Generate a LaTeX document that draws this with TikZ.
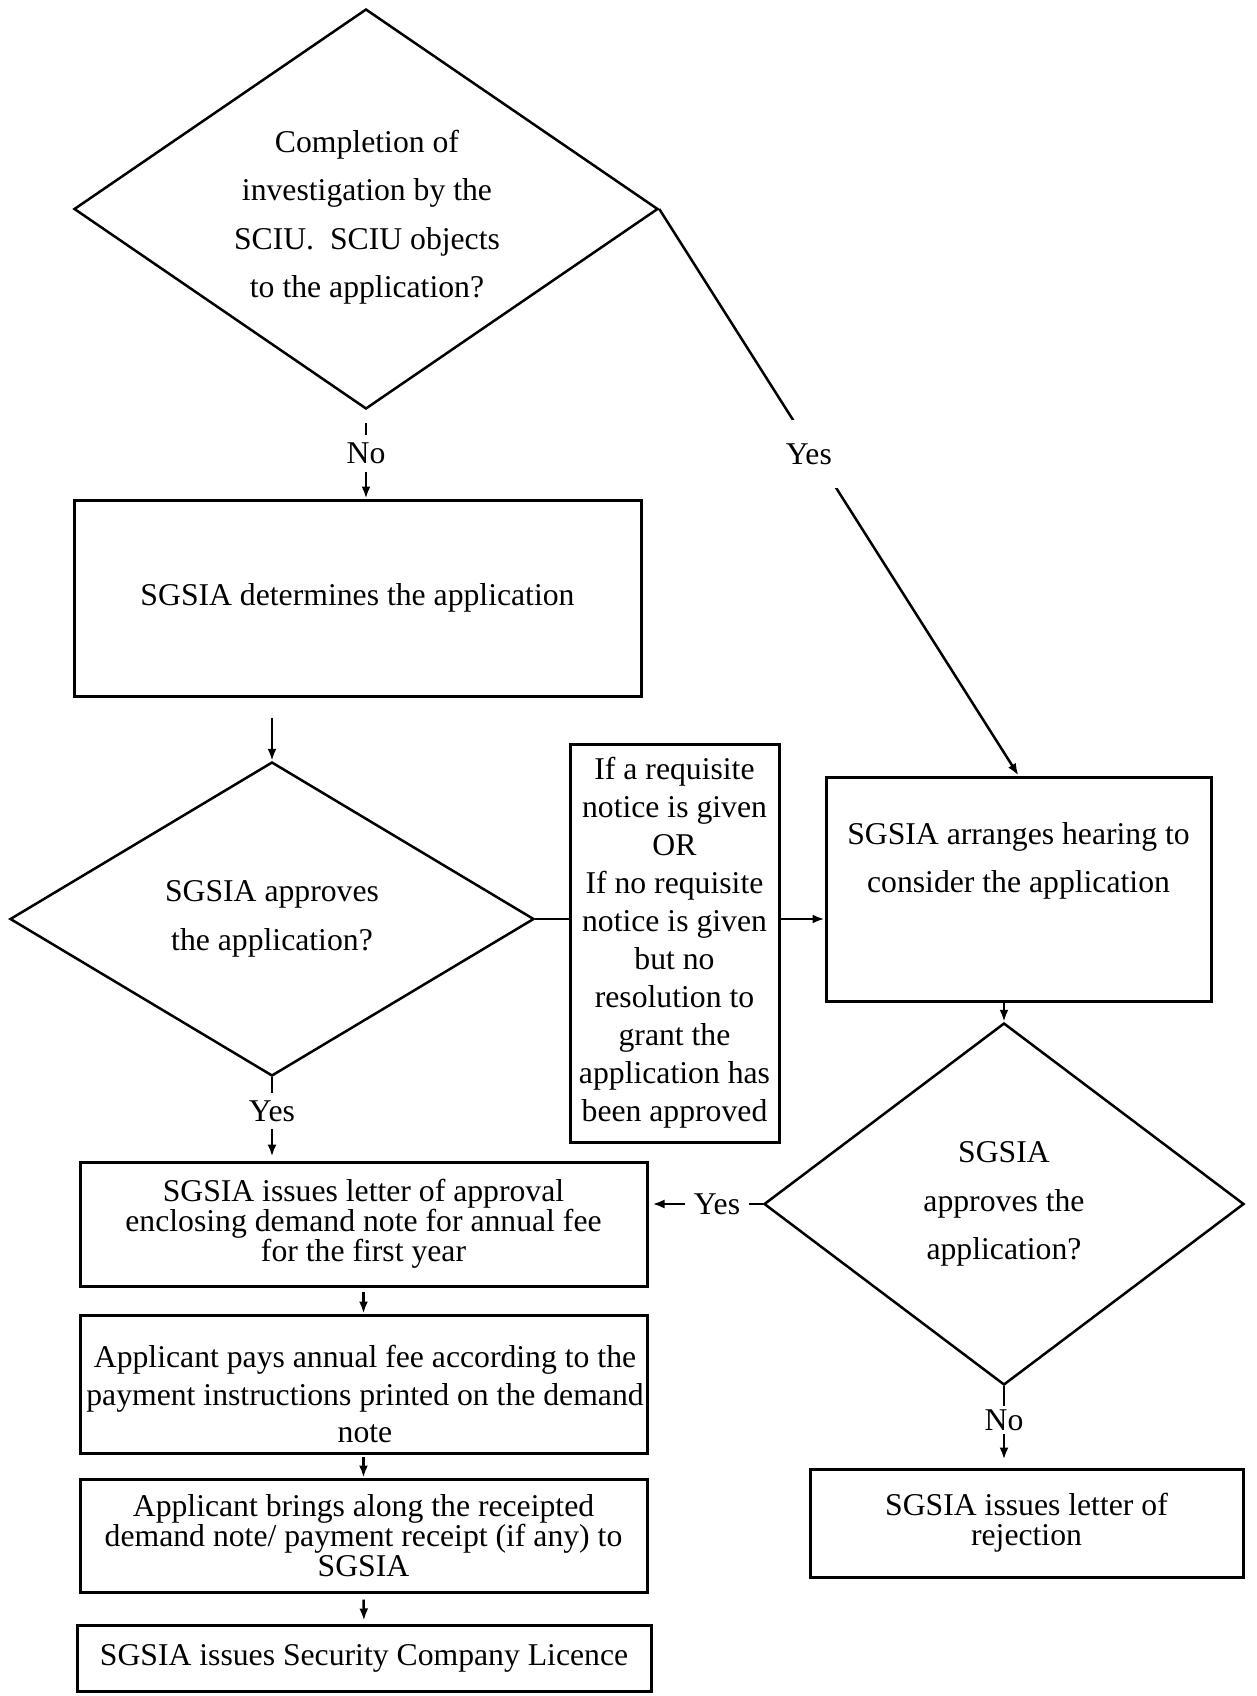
\documentclass[tikz,border=0pt]{standalone}
\usepackage{fontspec}
\setmainfont{Liberation Serif}
\usetikzlibrary{shapes.geometric,arrows.meta}
\begin{document}
\begin{tikzpicture}[x=1pt,y=-1pt,
  base/.style={font=\fontsize{31.7pt}{38pt}\selectfont, align=center, inner sep=0pt},
  boxnode/.style={base, draw, line width=3pt, rectangle},
  tight/.style={font=\fontsize{31.7pt}{30pt}\selectfont},
  wide/.style={font=\fontsize{31.7pt}{48.5pt}\selectfont},
  mid/.style={font=\fontsize{31.7pt}{37.5pt}\selectfont},
  decision/.style={base, wide, draw, line width=2.5pt, diamond},
  conn/.style={line width=2.5pt},
  arr/.style={conn, -{Latex[length=12pt,width=9pt]}},
  lbl/.style={base, fill=white}
]
\useasboundingbox (0,0) rectangle (1256,1696);

% nodes
\node[decision, aspect=1.46, minimum width=584pt, minimum height=400pt] (d1) at (366,209) {};
\node[base, wide] (d1t) at (367,217)
  {Completion of\\investigation by the\\SCIU.\ \ SCIU objects\\to the application?};
\node[boxnode, minimum width=567pt, minimum height=196pt] (b1) at (357.5,598)
  {SGSIA determines the application};
\node[decision, aspect=1.67, minimum width=524pt, minimum height=314pt] (d2) at (272,919)
  {SGSIA approves\\the application?};
\node[boxnode, minimum width=209pt, minimum height=398pt] (sb) at (674.5,943)
  {If a requisite\\notice is given\\OR\\If no requisite\\notice is given\\but no\\resolution to\\grant the\\application has\\been approved};
\node[draw, line width=3pt, rectangle, minimum width=385pt, minimum height=224pt, inner sep=0pt] (hb) at (1018.5,889) {};
\node[base, wide] (hbt) at (1018.5,861) {SGSIA arranges hearing to\\consider the application};
\node[decision, aspect=1.33, minimum width=480pt, minimum height=362pt] (d3) at (1004,1204)
  {SGSIA\\approves the\\application?};
\node[boxnode, tight, minimum width=433pt, minimum height=108pt] (rb) at (1026.5,1523)
  {SGSIA issues letter of\\rejection};
\node[boxnode, tight, minimum width=567pt, minimum height=124pt] (ba) at (363.5,1224)
  {SGSIA issues letter of approval\\enclosing demand note for annual fee\\for the first year};
\node[draw, line width=3pt, rectangle, minimum width=567pt, minimum height=138pt, inner sep=0pt] (bp) at (363.5,1384) {};
\node[base, mid] (bpt) at (365,1394)
  {Applicant pays annual fee according to the\\payment instructions printed on the demand\\note};
\node[boxnode, tight, minimum width=567pt, minimum height=113pt] (bb) at (363.5,1535.5)
  {Applicant brings along the receipted\\demand note/ payment receipt (if any) to\\SGSIA};
\node[boxnode, minimum width=574pt, minimum height=66pt] (bl) at (364,1658)
  {SGSIA issues Security Company Licence};

% connectors
\draw[arr, shorten <=13pt] (d1.south) -- node[lbl, pos=0.49, minimum height=37pt]{No} (d1.south |- b1.north);
\draw[arr] (d1.east) -- node[lbl, pos=0.433, minimum height=68pt, minimum width=64pt, xshift=-6pt]{Yes} (hb.north);
\draw[arr, shorten <=20pt] (b1.south -| d2.north) -- (d2.north);
\draw[conn] (d2.east) -- (sb.west |- d2.east);
\draw[arr] (sb.east |- d2.east) -- (hb.west |- d2.east);
\draw[arr] (hb.south -| d3.north) -- (d3.north);
\draw[arr, shorten >=4pt] (d3.west) -- node[lbl, pos=0.40, inner xsep=9pt]{Yes} (d3.west -| ba.east);
\draw[arr, shorten >=8pt] (d3.south) -- node[lbl, pos=0.42, minimum height=28pt]{No} (d3.south |- rb.north);
\draw[arr, shorten >=4pt] (d2.south) -- node[lbl, pos=0.41, minimum height=36pt]{Yes} (d2.south |- ba.north);
\draw[arr, shorten <=4pt] (ba.south) -- (bp.north);
\draw[arr, shorten <=2pt] (bp.south) -- (bb.north);
\draw[arr, shorten <=6pt, shorten >=3pt] (bb.south) -- (bl.north);
\end{tikzpicture}
\end{document}
